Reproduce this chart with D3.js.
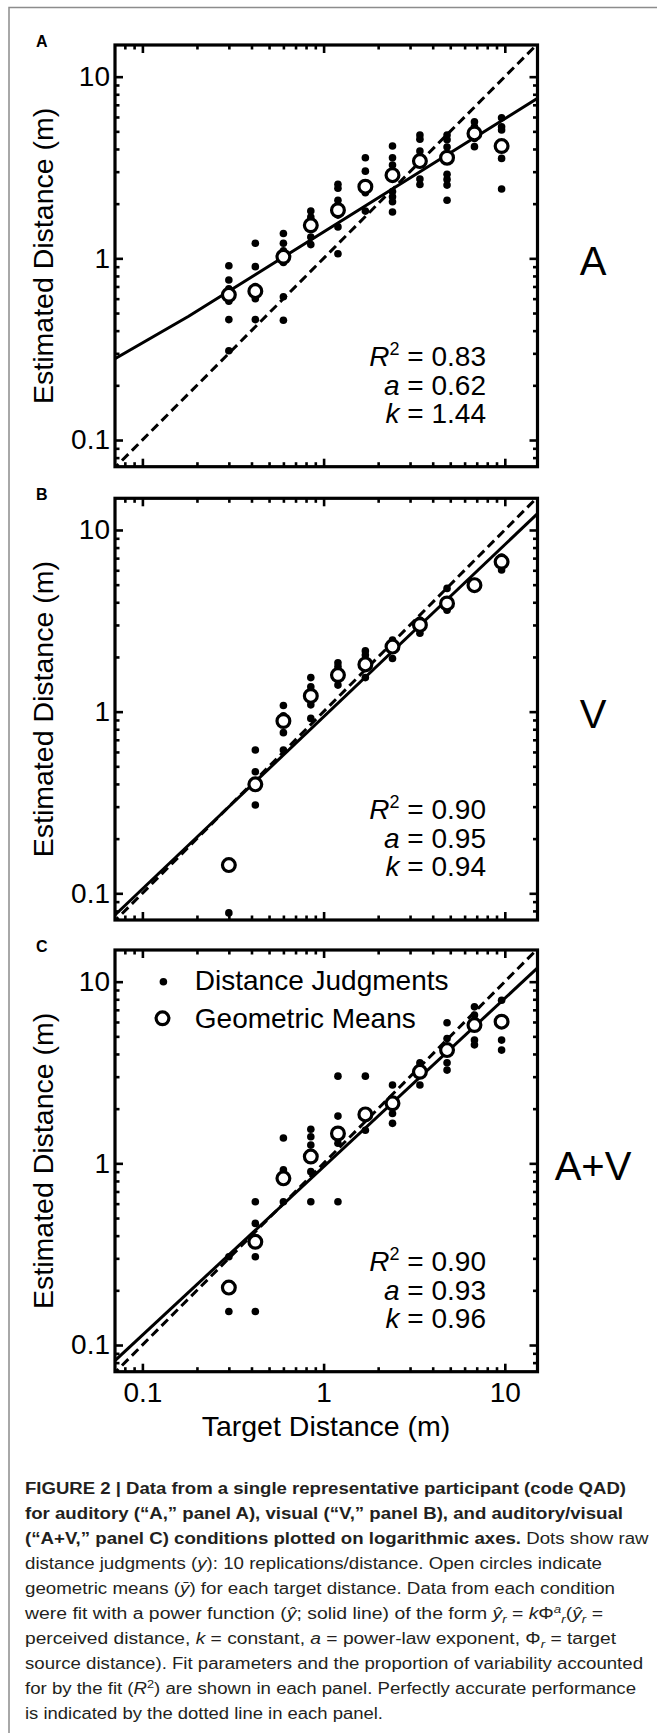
<!DOCTYPE html>
<html>
<head>
<meta charset="utf-8">
<script src="https://cdn.jsdelivr.net/npm/d3@7"></script>
<style>
body { margin: 0; background: #fff; }
svg { display: block; font-family: "Liberation Sans", Arial, sans-serif; }
</style>
</head>
<body>
<script>
// target distances (m), same in every panel
var targets = [0.3, 0.42, 0.6, 0.85, 1.2, 1.7, 2.4, 3.4, 4.8, 6.8, 9.6];

// raw judgments visible in each column (overlapping ones are hidden anyway)
var judgA = [
    [0.91, 0.76, 0.68, 0.62, 0.58, 0.46, 0.31],
    [1.21, 0.90, 0.70, 0.60, 0.46],
    [1.37, 1.21, 1.10, 0.95, 0.615, 0.456],
    [1.82, 1.69, 1.52, 1.31, 1.19],
    [2.56, 2.43, 2.09, 1.95, 1.73, 1.49, 1.06],
    [3.58, 3.02, 2.6, 2.3, 1.82],
    [4.15, 3.58, 3.26, 2.33, 2.18, 2.05, 1.80],
    [4.77, 4.53, 3.9, 2.73, 2.55],
    [4.77, 4.50, 4.1, 2.9, 2.72, 2.53, 2.09],
    [5.65, 5.3, 4.57, 4.12],
    [5.94, 5.3, 5.09, 3.55, 2.41]
];
var meansA = [0.63, 0.66, 1.02, 1.52, 1.84, 2.48, 2.87, 3.43, 3.58, 4.87, 4.15];
var fitA = [[0.0706, 0.28], [0.18, 0.48], [15.15, 7.6]];
var statsA = ["0.83", "0.62", "1.44"];

var judgB = [
    [0.078],
    [0.615, 0.467, 0.306],
    [1.08, 0.95, 0.766, 0.615],
    [1.54, 1.37, 1.09, 0.918],
    [1.86, 1.77, 1.40],
    [2.16, 2.05, 1.54],
    [2.48, 1.96],
    [3.19, 2.70],
    [4.77, 3.62],
    [5.2, 4.8],
    [7.1, 6.02]
];
var meansB = [0.143, 0.398, 0.888, 1.22, 1.59, 1.82, 2.28, 3.0, 3.94, 4.97, 6.68];
var fitB = [[0.0706, 0.076], [15.15, 12.3]];
var statsB = ["0.90", "0.95", "0.94"];

var judgC = [
    [0.306, 0.153],
    [0.615, 0.467, 0.306, 0.153],
    [1.38, 0.92, 0.615],
    [1.54, 1.40, 1.26, 0.9, 0.615],
    [3.02, 1.82, 1.29, 0.615],
    [3.02, 1.52],
    [2.70, 1.88, 1.66],
    [3.58, 2.70],
    [5.94, 4.87, 3.58, 3.26],
    [7.27, 6.55, 4.77, 4.49],
    [7.9, 4.77, 4.2]
];
var meansC = [0.207, 0.37, 0.827, 1.09, 1.46, 1.86, 2.14, 3.19, 4.2, 5.77, 6.02];
var fitC = [[0.0706, 0.082], [15.15, 11.9]];
var statsC = ["0.90", "0.93", "0.96"];

// perfectly accurate performance
var identity = [[0.06, 0.06], [16, 16]];

var panelLetters = ["A", "B", "C"];
var conditions = ["A", "V", "A+V"];
var xTicks = [0.1, 1, 10];
var xTickLabels = ["0.1", "1", "10"];
var yTicks = [0.1, 1, 10];
var yTickLabels = ["0.1", "1", "10"];
var legendLabels = ["Distance Judgments", "Geometric Means"];
var xTitle = "Target Distance (m)";
var yTitle = "Estimated Distance (m)";

var captionLines = [
    [["b", "FIGURE 2 | Data from a single representative participant (code QAD)"]],
    [["b", "for auditory (\u201cA,\u201d panel A), visual (\u201cV,\u201d panel B), and auditory/visual"]],
    [["b", "(\u201cA+V,\u201d panel C) conditions plotted on logarithmic axes."], ["n", " Dots show raw"]],
    [["n", "distance judgments ("], ["i", "y"], ["n", "): 10 replications/distance. Open circles indicate"]],
    [["n", "geometric means ("], ["i", "\u0233"], ["n", ") for each target distance. Data from each condition"]],
    [["n", "were fit with a power function ("], ["i", "\u0177"], ["n", "; solid line) of the form "],
     ["i", "\u0177"], ["sub", "r"], ["n", " = "], ["i", "k"], ["n", "\u03a6"], ["sup", "a"], ["sub", "r"],
     ["n", "("], ["i", "\u0177"], ["sub", "r"], ["n", " ="]],
    [["n", "perceived distance, "], ["i", "k"], ["n", " = constant, "], ["i", "a"],
     ["n", " = power-law exponent, \u03a6"], ["sub", "r"], ["n", " = target"]],
    [["n", "source distance). Fit parameters and the proportion of variability accounted"]],
    [["n", "for by the fit ("], ["i", "R"], ["supn", "2"], ["n", ") are shown in each panel. Perfectly accurate performance"]],
    [["n", "is indicated by the dotted line in each panel."]]
];

function main() {

    var W = 657, H = 1733;
    var left = 115, right = 537.5, ph = 421.7;
    var tops = [45, 498.3, 950];

    var panels = [
        {judg: judgA, means: meansA, fit: fitA, stats: statsA},
        {judg: judgB, means: meansB, fit: fitB, stats: statsB},
        {judg: judgC, means: meansC, fit: fitC, stats: statsC}
    ];

    var svg = d3.select("body").append("svg")
        .attr("width", W)
        .attr("height", H);

    svg.append("rect").attr("width", W).attr("height", H).attr("fill", "#fff");

    // page frame (top and left)
    svg.append("path")
        .attr("d", "M9,1733V7.5H657")
        .attr("fill", "none")
        .attr("stroke", "#8c8c8c")
        .attr("stroke-width", 1.5);

    var xScale = d3.scaleLog().domain([0.0706, 15.15]).range([left, right]);

    // minor ticks between decades
    var minor = [];
    [0.01, 0.1, 1, 10].forEach(function(d) {
        for (var m = 2; m <= 9; m++) minor.push(d * m);
    });
    var minorX = minor.filter(function(v) { return v > 0.0706 && v < 15.15; });
    var minorY = minor.filter(function(v) { return v > 0.0713 && v < 14.94; });

    panels.forEach(function(p, i) {
        var top = tops[i];
        var bottom = top + ph;
        var yScale = d3.scaleLog().domain([0.0713, 14.94]).range([bottom, top]);
        var g = svg.append("g");

        g.append("clipPath").attr("id", "clip" + i)
            .append("rect")
            .attr("x", left).attr("y", top)
            .attr("width", right - left).attr("height", ph);

        var plot = g.append("g").attr("clip-path", "url(#clip" + i + ")");

        var line = d3.line()
            .x(function(d) { return xScale(d[0]); })
            .y(function(d) { return yScale(d[1]); });

        // dashed identity line
        plot.append("path")
            .datum(identity)
            .attr("d", line)
            .attr("fill", "none")
            .attr("stroke", "#000")
            .attr("stroke-width", 3)
            .attr("stroke-dasharray", "9,5");

        // power-law fit
        plot.append("path")
            .datum(p.fit)
            .attr("d", line)
            .attr("fill", "none")
            .attr("stroke", "#000")
            .attr("stroke-width", 3);

        // raw judgments
        var pts = [];
        p.judg.forEach(function(col, j) {
            col.forEach(function(v) { pts.push([targets[j], v]); });
        });
        plot.selectAll(".dot")
            .data(pts)
            .enter().append("circle")
            .attr("cx", function(d) { return xScale(d[0]); })
            .attr("cy", function(d) { return yScale(d[1]); })
            .attr("r", 3.8)
            .attr("fill", "#000");

        // geometric means
        plot.selectAll(".mean")
            .data(p.means)
            .enter().append("circle")
            .attr("cx", function(d, j) { return xScale(targets[j]); })
            .attr("cy", function(d) { return yScale(d); })
            .attr("r", 6.4)
            .attr("fill", "#fff")
            .attr("stroke", "#000")
            .attr("stroke-width", 3.2);

        // axes with inward ticks on all four sides
        function styleAxis(a) {
            a.select(".domain").remove();
            a.selectAll("line").attr("stroke-width", 2.6);
            a.attr("font-family", null).attr("font-size", 28);
            a.selectAll("text").attr("fill", "#000");
        }
        var xLab = function(d) { return xTickLabels[xTicks.indexOf(d)]; };
        var yLab = function(d) { return yTickLabels[yTicks.indexOf(d)]; };

        g.append("g").attr("transform", "translate(0," + bottom + ")")
            .call(d3.axisBottom(xScale).tickValues(xTicks).tickSizeInner(-8).tickSizeOuter(0)
                .tickPadding(10).tickFormat(i == 2 ? xLab : ""))
            .call(styleAxis);
        g.append("g").attr("transform", "translate(0," + bottom + ")")
            .call(d3.axisBottom(xScale).tickValues(minorX).tickSizeInner(-4.5).tickSizeOuter(0).tickFormat(""))
            .call(styleAxis);
        g.append("g").attr("transform", "translate(0," + top + ")")
            .call(d3.axisTop(xScale).tickValues(xTicks).tickSizeInner(-8).tickSizeOuter(0).tickFormat(""))
            .call(styleAxis);
        g.append("g").attr("transform", "translate(0," + top + ")")
            .call(d3.axisTop(xScale).tickValues(minorX).tickSizeInner(-4.5).tickSizeOuter(0).tickFormat(""))
            .call(styleAxis);
        g.append("g").attr("transform", "translate(" + left + ",0)")
            .call(d3.axisLeft(yScale).tickValues(yTicks).tickSizeInner(-8).tickSizeOuter(0)
                .tickPadding(5).tickFormat(yLab))
            .call(styleAxis);
        g.append("g").attr("transform", "translate(" + left + ",0)")
            .call(d3.axisLeft(yScale).tickValues(minorY).tickSizeInner(-4.5).tickSizeOuter(0).tickFormat(""))
            .call(styleAxis);
        g.append("g").attr("transform", "translate(" + right + ",0)")
            .call(d3.axisRight(yScale).tickValues(yTicks).tickSizeInner(-8).tickSizeOuter(0).tickFormat(""))
            .call(styleAxis);
        g.append("g").attr("transform", "translate(" + right + ",0)")
            .call(d3.axisRight(yScale).tickValues(minorY).tickSizeInner(-4.5).tickSizeOuter(0).tickFormat(""))
            .call(styleAxis);

        // frame
        g.append("rect")
            .attr("x", left).attr("y", top)
            .attr("width", right - left).attr("height", ph)
            .attr("fill", "none")
            .attr("stroke", "#000")
            .attr("stroke-width", 3.2);

        // panel letter
        g.append("text")
            .attr("x", 36).attr("y", top + 1.5)
            .attr("font-size", 16).attr("font-weight", "bold")
            .text(panelLetters[i]);

        // condition label
        g.append("text")
            .attr("x", 593).attr("y", yScale(1) + 16.7)
            .attr("text-anchor", "middle")
            .attr("font-size", 40)
            .text(conditions[i]);

        // y title
        g.append("text")
            .attr("transform", "translate(53," + (top + ph / 2) + ") rotate(-90)")
            .attr("text-anchor", "middle")
            .attr("font-size", 28.5)
            .text(yTitle);

        // fit statistics
        var sx = 486;
        var r2 = g.append("text").attr("x", sx).attr("y", top + 321)
            .attr("text-anchor", "end").attr("font-size", 28);
        r2.append("tspan").attr("font-style", "italic").text("R");
        r2.append("tspan").attr("font-size", 18).attr("dy", -11).text("2");
        r2.append("tspan").attr("dy", 11).text(" = " + p.stats[0]);

        var ta = g.append("text").attr("x", sx).attr("y", top + 349.5)
            .attr("text-anchor", "end").attr("font-size", 28);
        ta.append("tspan").attr("font-style", "italic").text("a");
        ta.append("tspan").text(" = " + p.stats[1]);

        var tk = g.append("text").attr("x", sx).attr("y", top + 378)
            .attr("text-anchor", "end").attr("font-size", 28);
        tk.append("tspan").attr("font-style", "italic").text("k");
        tk.append("tspan").text(" = " + p.stats[2]);

        // legend only in the last panel
        if (i == 2) {
            g.append("circle").attr("cx", 163.4).attr("cy", top + 31.7).attr("r", 3.8).attr("fill", "#000");
            g.append("circle").attr("cx", 162.5).attr("cy", top + 68.3).attr("r", 6.4)
                .attr("fill", "#fff").attr("stroke", "#000").attr("stroke-width", 3.2);
            g.append("text").attr("x", 194.8).attr("y", top + 40).attr("font-size", 28).text(legendLabels[0]);
            g.append("text").attr("x", 194.8).attr("y", top + 78.3).attr("font-size", 28).text(legendLabels[1]);
        }
    });

    // x title
    svg.append("text")
        .attr("x", 326).attr("y", 1436)
        .attr("text-anchor", "middle")
        .attr("font-size", 28.5)
        .text(xTitle);

    // caption
    var capWidths = [601, 598, 623.5, 577, 590, 578, 591, 618, 611, 358];
    captionLines.forEach(function(segs, i) {
        var t = svg.append("text")
            .attr("x", 25).attr("y", 1494 + i * 25)
            .attr("font-size", 16)
            .attr("fill", "#231f20")
            .attr("textLength", capWidths[i])
            .attr("lengthAdjust", "spacingAndGlyphs");
        var shift = 0;
        segs.forEach(function(s) {
            var kind = s[0];
            var want = kind == "sub" ? 4 : (kind == "sup" || kind == "supn") ? -6 : 0;
            var ts = t.append("tspan").text(s[1]);
            if (want != shift) ts.attr("dy", want - shift);
            shift = want;
            if (kind == "b") ts.attr("font-weight", "bold");
            if (kind == "i" || kind == "sub" || kind == "sup") ts.attr("font-style", "italic");
            if (kind == "sub" || kind == "sup" || kind == "supn") ts.attr("font-size", 11);
        });
    });
}

main();
</script>
</body>
</html>
